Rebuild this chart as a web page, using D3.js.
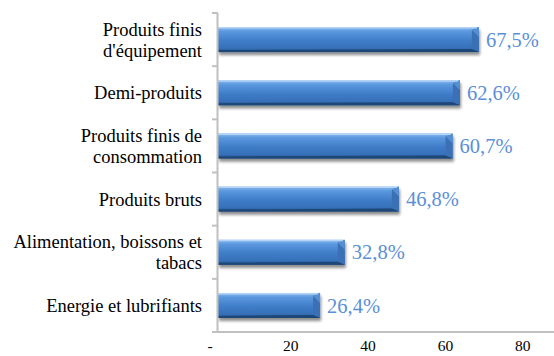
<!DOCTYPE html>
<html>
<head>
<meta charset="utf-8">
<script src="https://cdn.jsdelivr.net/npm/d3@7"></script>
<style>
  html, body { margin: 0; padding: 0; background: #fff; }
  svg { display: block; }
  .serif { font-family: "Liberation Serif", "Tinos", "Times New Roman", Times, "DejaVu Serif", "Noto Serif", FreeSerif, serif; }
</style>
</head>
<body>
<svg id="chart" width="554" height="356"></svg>
<script>
// Categories, top to bottom (each label split into display lines)
const categories = [
  ["Produits finis", "d'équipement"],
  ["Demi-produits"],
  ["Produits finis de", "consommation"],
  ["Produits bruts"],
  ["Alimentation, boissons et", "tabacs"],
  ["Energie et lubrifiants"]
];
const values = [67.5, 62.6, 60.7, 46.8, 32.8, 26.4];
const valueLabels = ["67,5%", "62,6%", "60,7%", "46,8%", "32,8%", "26,4%"];
const xTicks = [0, 20, 40, 60, 80];
const xTickLabels = ["-", "20", "40", "60", "80"];

const svg = d3.select("#chart");
const margin = { left: 218, top: 13 };
const width = 554;
const plotBottom = 332;

const x = d3.scaleLinear().domain([0, 80]).range([margin.left, margin.left + 80 * 3.865]);
const y = d3.scaleBand()
  .domain(d3.range(categories.length))
  .range([margin.top, plotBottom])
  .paddingInner(0.53).paddingOuter(0.265);

const defs = svg.append("defs");
const grad = defs.append("linearGradient").attr("id", "barGrad")
  .attr("x1", 0).attr("y1", 0).attr("x2", 0).attr("y2", 1);
grad.append("stop").attr("offset", "0%").attr("stop-color", "#8dbbef");
grad.append("stop").attr("offset", "18%").attr("stop-color", "#5a97de");
grad.append("stop").attr("offset", "55%").attr("stop-color", "#3f7cc8");
grad.append("stop").attr("offset", "85%").attr("stop-color", "#3670b8");
grad.append("stop").attr("offset", "100%").attr("stop-color", "#1f4a80");

const shadow = defs.append("filter").attr("id", "shadow")
  .attr("x", "-10%").attr("y", "-30%").attr("width", "130%").attr("height", "180%");
shadow.append("feGaussianBlur").attr("in", "SourceAlpha").attr("stdDeviation", 1.6).attr("result", "b");
shadow.append("feOffset").attr("in", "b").attr("dx", 1).attr("dy", 2.5).attr("result", "o");
shadow.append("feComponentTransfer").attr("in", "o").attr("result", "s")
  .append("feFuncA").attr("type", "linear").attr("slope", 0.45);
const merge = shadow.append("feMerge");
merge.append("feMergeNode").attr("in", "s");
merge.append("feMergeNode").attr("in", "SourceGraphic");

// Bars with bevelled right end
const bars = svg.append("g").selectAll("g.bar")
  .data(values).join("g").attr("class", "bar")
  .attr("filter", "url(#shadow)");

const bev = 7;
bars.append("rect")
  .attr("x", x(0)).attr("y", (d, i) => y(i))
  .attr("width", d => x(d) - x(0)).attr("height", y.bandwidth())
  .attr("fill", "url(#barGrad)");

// right-end facets
bars.append("path")
  .attr("d", (d, i) => {
    const x1 = x(d), y0 = y(i), y1 = y(i) + y.bandwidth();
    return `M${x1 - bev},${y0 + 3} L${x1},${y0} L${x1},${y1} L${x1 - bev},${y1 - 3} Z`;
  })
  .attr("fill", "#3a70b4");
bars.append("path")
  .attr("d", (d, i) => {
    const x1 = x(d), y0 = y(i);
    return `M${x1 - bev},${y0 + 3} L${x1},${y0} L${x1},${y0 + bev + 3} Z`;
  })
  .attr("fill", "#5d96d8").attr("opacity", 0.8);
bars.append("path")
  .attr("d", (d, i) => {
    const x1 = x(d), y1 = y(i) + y.bandwidth();
    return `M${x(0)},${y1 - 2} L${x1 - bev},${y1 - 3} L${x1},${y1} L${x(0)},${y1} Z`;
  })
  .attr("fill", "#1e4677");
bars.append("line")
  .attr("x1", x(0)).attr("x2", d => x(d) - 2)
  .attr("y1", (d, i) => y(i) + 0.75).attr("y2", (d, i) => y(i) + 0.75)
  .attr("stroke", "#b4d4f6").attr("stroke-width", 1.5);

// Value labels
svg.append("g").attr("class", "serif").selectAll("text")
  .data(values).join("text")
  .attr("x", d => x(d) + 7)
  .attr("y", (d, i) => y(i) + y.bandwidth() / 2)
  .attr("dy", "0.35em")
  .attr("font-size", 20.5)
  .attr("fill", "#5b8fd8")
  .text((d, i) => valueLabels[i]);

// Axes
const axisColor = "#c0c0c0";
const step = (plotBottom - margin.top) / categories.length;
const ay = svg.append("g");
ay.append("line")
  .attr("x1", x(0) - 0.5).attr("x2", x(0) - 0.5)
  .attr("y1", margin.top).attr("y2", plotBottom)
  .attr("stroke", axisColor).attr("stroke-width", 2);
ay.selectAll("line.tick")
  .data(d3.range(categories.length + 1)).join("line").attr("class", "tick")
  .attr("x1", x(0) - 6).attr("x2", x(0))
  .attr("y1", i => margin.top + i * step).attr("y2", i => margin.top + i * step)
  .attr("stroke", axisColor).attr("stroke-width", 2);

svg.append("line")
  .attr("x1", x(0) - 6).attr("x2", width)
  .attr("y1", plotBottom).attr("y2", plotBottom)
  .attr("stroke", axisColor).attr("stroke-width", 2);

// Category labels
const catG = svg.append("g").attr("class", "serif")
  .attr("font-size", 18.5).attr("fill", "#000").attr("text-anchor", "end");
categories.forEach((lines, i) => {
  const cy = y(i) + y.bandwidth() / 2;
  const lh = 21;
  const t = catG.append("text").attr("x", 202);
  lines.forEach((ln, j) => {
    t.append("tspan").attr("x", 202)
      .attr("y", cy + (j - (lines.length - 1) / 2) * lh)
      .attr("dy", "0.35em").text(ln);
  });
});

// X tick labels
svg.append("g").attr("class", "serif")
  .attr("font-size", 15.5).attr("fill", "#000").attr("text-anchor", "middle")
  .selectAll("text").data(xTicks).join("text")
  .attr("x", (d, i) => x(d) - (i === 0 ? 8 : 4.5))
  .attr("y", 351)
  .text((d, i) => xTickLabels[i]);
</script>
</body>
</html>
